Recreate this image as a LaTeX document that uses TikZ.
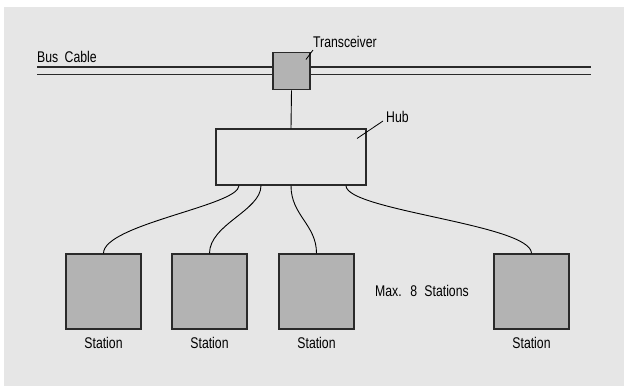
\documentclass[tikz,border=0pt]{standalone}
\usepackage{fontspec}
\setmainfont{Liberation Sans}[FakeStretch=0.79]
\usetikzlibrary{calc}
\definecolor{bggray}{HTML}{E6E6E6}
\definecolor{boxgray}{HTML}{B3B3B3}
\definecolor{linegray}{HTML}{2A2A2A}
\tikzset{
  gbox/.style={draw=linegray, line width=1.2pt, fill=boxgray, inner sep=0pt, minimum width=75pt, minimum height=75pt},
  hubbox/.style={draw=linegray, line width=1.2pt, fill=bggray, inner sep=0pt, minimum width=150pt, minimum height=56pt},
  tbox/.style={draw=linegray, line width=1.2pt, fill=boxgray, inner sep=0pt, minimum width=37pt, minimum height=37pt},
  lbl/.style={font=\fontsize{15.5pt}{17pt}\selectfont, inner sep=0pt, text=black},
  bus/.style={draw=linegray, line width=1.1pt},
  cable/.style={draw=black, line width=0.9pt},
  leader/.style={draw=black, line width=0.8pt}
}
\begin{document}
\begin{tikzpicture}[x=1pt,y=-1pt]
\useasboundingbox (0,0) rectangle (624,386);
\fill[bggray] (4,7) rectangle (624,386);
% bus cable
\coordinate (busL1) at (37,67);
\coordinate (busR1) at (591,67);
\coordinate (busL2) at (37,74.5);
\coordinate (busR2) at (591,74.5);
\draw[bus] (busL1) -- (busR1);
\draw[bus] (busL2) -- (busR2);
\node[lbl, anchor=base west] (buslbl) at (37,62.7) {Bus\hspace{3pt} Cable};
% transceiver
\node[tbox] (trx) at (291.5,71.3) {};
\node[lbl, anchor=base west] (trxlbl) at (313,47.3) {Transceiver};
\coordinate (trxl1) at (306,59.5);
\coordinate (trxl2) at (313,50);
\draw[leader] (trxl1) -- (trxl2);
% hub
\node[hubbox] (hub) at (291,157) {};
\draw[cable] (trx.south) -- (hub.north);
\node[lbl, anchor=base west] (hublbl) at (386,122) {Hub};
\coordinate (hubl1) at (357,138.5);
\coordinate (hubl2) at (383,121);
\draw[leader] (hubl1) -- (hubl2);
% stations
\node[gbox] (s1) at (103.5,291.5) {};
\node[gbox] (s2) at (209.5,291.5) {};
\node[gbox] (s3) at (316.5,291.5) {};
\node[gbox] (s4) at (531.5,291.5) {};
\foreach \s in {s1,s2,s3,s4}{
  \node[lbl, anchor=base] (\s lbl) at ($(\s.south)+(0,19)$) {Station};
}
\node[lbl, anchor=base west] (maxlbl) at (375,296.7) {Max.\hspace{4pt} 8\hspace{4pt} Stations};
% cables from hub
\coordinate (h1) at ($(hub.south)+(-52,0)$);
\coordinate (h2) at ($(hub.south)+(-30,0)$);
\coordinate (h3) at ($(hub.south)+(0,0)$);
\coordinate (h4) at ($(hub.south)+(55,0)$);
\draw[cable] (h1) .. controls ($(h1)+(0,20)$) and ($(s1.north)+(0,-29)$) .. (s1.north);
\draw[cable] (h2) .. controls ($(h2)+(0,25)$) and ($(s2.north)+(0,-29)$) .. (s2.north);
\draw[cable] (h3) .. controls ($(h3)+(0,30)$) and ($(s3.north)+(0,-29)$) .. (s3.north);
\draw[cable] (h4) .. controls ($(h4)+(0,25)$) and ($(s4.north)+(0,-29)$) .. (s4.north);
\end{tikzpicture}
\end{document}
